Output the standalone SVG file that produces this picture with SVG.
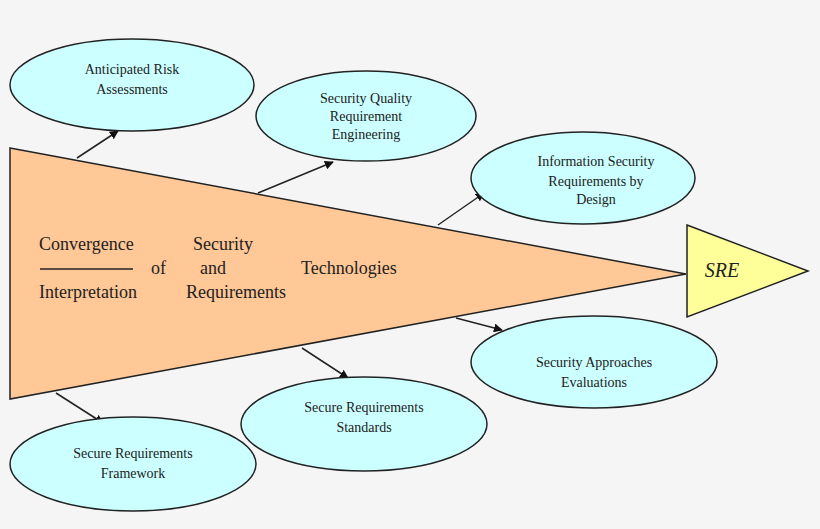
<svg xmlns="http://www.w3.org/2000/svg" width="820" height="529" viewBox="0 0 820 529">
<style>
.e{fill:#ccffff;stroke:#222;stroke-width:1.5}
.t{font-family:"Liberation Serif",serif;font-size:14px;fill:#222;text-anchor:middle}
.b{font-family:"Liberation Serif",serif;font-size:18px;fill:#222}
.c{stroke:#222;stroke-width:1.5;fill:none;marker-end:url(#a)}
</style>
<defs><marker id="a" viewBox="0 0 10 10" refX="9" refY="5" markerWidth="9" markerHeight="9" markerUnits="userSpaceOnUse" orient="auto"><path d="M0,0L10,5L0,10z" fill="#111"/></marker></defs>
<rect width="820" height="529" fill="#f5f5f5"/>
<g id="connectors">
<line class="c" x1="77" y1="158" x2="118" y2="131"/>
<line class="c" x1="258" y1="193" x2="333" y2="162"/>
<line class="c" x1="438" y1="225" x2="484" y2="193"/>
<line class="c" x1="456" y1="318" x2="502" y2="330"/>
<line class="c" x1="302" y1="348" x2="348" y2="378"/>
<line class="c" x1="56" y1="393" x2="103" y2="423"/>
</g>
<g id="main">
<polygon points="10,148 686,274 10,399" fill="#ffc896" stroke="#222" stroke-width="1.5"/>
<text class="b" x="39" y="250">Convergence</text>
<text class="b" x="193" y="250">Security</text>
<line x1="40" y1="269" x2="133" y2="269" stroke="#222" stroke-width="1.5"/>
<text class="b" x="151" y="274">of</text>
<text class="b" x="200" y="274">and</text>
<text class="b" x="301" y="274">Technologies</text>
<text class="b" x="39" y="298">Interpretation</text>
<text class="b" x="186" y="298">Requirements</text>
</g>
<g id="sre">
<polygon points="687,225 808,271 687,317" fill="#ffff99" stroke="#222" stroke-width="1.5"/>
<text x="722" y="277" font-family="Liberation Serif,serif" font-style="italic" font-size="20" fill="#222" text-anchor="middle">SRE</text>
</g>
<g id="n1"><ellipse class="e" cx="132" cy="85" rx="122" ry="46"/><text class="t" x="132" y="74">Anticipated Risk</text><text class="t" x="132" y="94">Assessments</text></g>
<g id="n2"><ellipse class="e" cx="366" cy="116" rx="110" ry="45"/><text class="t" x="366" y="103">Security Quality</text><text class="t" x="366" y="121">Requirement</text><text class="t" x="366" y="139">Engineering</text></g>
<g id="n3"><ellipse class="e" cx="583" cy="178" rx="112" ry="46"/><text class="t" x="596" y="166">Information Security</text><text class="t" x="596" y="186">Requirements by</text><text class="t" x="596" y="204">Design</text></g>
<g id="n4"><ellipse class="e" cx="594" cy="362" rx="123" ry="46"/><text class="t" x="594" y="367">Security Approaches</text><text class="t" x="594" y="387">Evaluations</text></g>
<g id="n5"><ellipse class="e" cx="364" cy="424" rx="123" ry="47"/><text class="t" x="364" y="412">Secure Requirements</text><text class="t" x="364" y="432">Standards</text></g>
<g id="n6"><ellipse class="e" cx="133" cy="464" rx="123" ry="47"/><text class="t" x="133" y="458">Secure Requirements</text><text class="t" x="133" y="478">Framework</text></g>
</svg>
